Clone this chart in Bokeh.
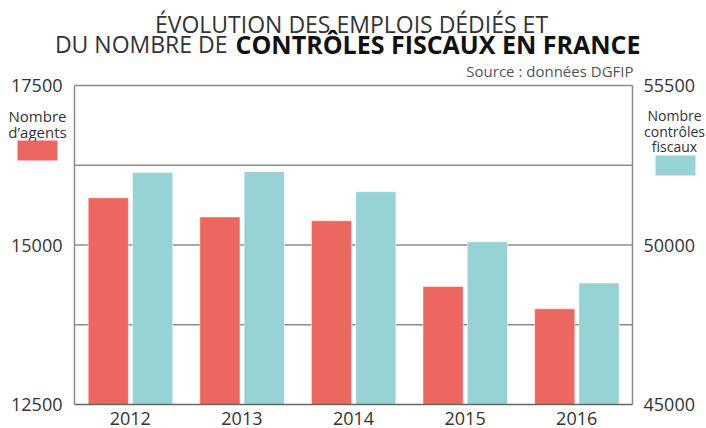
from bokeh.plotting import figure
from bokeh.models import Range1d, LinearAxis, FixedTicker, Label, BoxAnnotation, FactorRange, ColumnDataSource
from bokeh.transform import dodge
from bokeh.embed import file_html
from bokeh.resources import INLINE

years = ["2012", "2013", "2014", "2015", "2016"]
agents = [15740, 15440, 15380, 14350, 14000]
controles = [52270, 52300, 51670, 50100, 48810]
left_ticks = [12500, 15000, 17500]
right_ticks = [45000, 50000, 55000]
right_tick_labels = ["45000", "50000", "55500"]
grid_ticks = [13750, 15000, 16250, 17500]

RED = "#EC675F"
TEAL = "#97D3D4"
GRAY = "#8c8c8c"
TXT = "#333333"
FONT = "Open Sans"

W, H = 706, 428
# plot area in canvas pixels
PL, PR, PT, PB = 75, 633, 85, 404

def ext_range(lo, hi):
    per_px = (hi - lo) / (PB - PT)
    return Range1d(lo - (H - PB) * per_px, hi + PT * per_px)

n = len(years)
unit = (PR - PL) / n
pad = (W / unit - n) / 2

src = ColumnDataSource(data=dict(year=years, agents=agents, controles=controles))

p = figure(width=W, height=H,
           x_range=FactorRange(*years, range_padding=pad, range_padding_units="absolute"),
           y_range=ext_range(left_ticks[0], left_ticks[-1]),
           output_backend="svg", toolbar_location=None, min_border=0)
p.extra_y_ranges = {"ctrl": ext_range(right_ticks[0], right_ticks[-1])}
p.outline_line_color = None
p.grid.visible = False
p.background_fill_color = "white"

# grid lines and top border, limited to the plot area
p.segment(x0=[0] * len(grid_ticks), x1=[n] * len(grid_ticks), y0=grid_ticks, y1=grid_ticks,
          line_color=GRAY, line_width=1.5)

p.vbar(x=dodge("year", -0.197, range=p.x_range), top="agents", bottom=left_ticks[0], width=0.36,
       source=src, fill_color=RED, line_color="white", line_alpha=0.5, line_width=1)
p.vbar(x=dodge("year", 0.2, range=p.x_range), top="controles", bottom=right_ticks[0], width=0.36,
       source=src, fill_color=TEAL, line_color="white", line_alpha=0.5, line_width=1,
       y_range_name="ctrl")

def style_axis(ax, standoff):
    ax.major_tick_line_color = None
    ax.minor_tick_line_color = None
    ax.major_tick_out = 0
    ax.major_tick_in = 0
    ax.axis_line_color = GRAY
    ax.axis_line_width = 1.5
    ax.major_label_text_font = FONT
    ax.major_label_text_font_size = "18px"
    ax.major_label_text_color = TXT
    ax.major_label_standoff = standoff

yl = p.yaxis[0]
yl.ticker = FixedTicker(ticks=left_ticks)
yl.fixed_location = 0
yl.bounds = (left_ticks[0], left_ticks[-1])
style_axis(yl, 12)

yr = LinearAxis(y_range_name="ctrl", ticker=FixedTicker(ticks=right_ticks),
                major_label_overrides=dict(zip(right_ticks, right_tick_labels)))
yr.fixed_location = n
yr.bounds = (right_ticks[0], right_ticks[-1])
style_axis(yr, 11)
p.add_layout(yr, "right")

xa = p.xaxis[0]
xa.fixed_location = left_ticks[0]
xa.bounds = (0, n)
style_axis(xa, 7)
xa.axis_line_color = "#666666"

def lab(text, cx, cy, size, align="center", baseline="middle", style="normal", color=TXT):
    p.add_layout(Label(x=cx, y=H - cy, x_units="screen", y_units="screen", text=text,
                       text_font=FONT, text_font_size=size, text_align=align,
                       text_baseline=baseline, text_font_style=style, text_color=color))

lab("ÉVOLUTION DES EMPLOIS DÉDIÉS ET", 351, 23, "23px")
lab("DU NOMBRE DE ", 233, 43, "23px", align="right")
lab("CONTRÔLES FISCAUX EN FRANCE", 235, 43, "25px", align="left", style="bold", color="#111111")
lab("Source : données DGFIP", 633, 70, "15px", align="right", color="#555555")

lab("Nombre", 37, 115, "15px")
lab("d’agents", 37, 131, "15px")
lab("Nombre", 674, 115, "14px")
lab("contrôles", 674, 131, "14px")
lab("fiscaux", 674, 146, "14px")

def swatch(x0, x1, y0, y1, color):
    p.add_layout(BoxAnnotation(left=x0, right=x1, top=H - y0, bottom=H - y1,
                               left_units="screen", right_units="screen",
                               top_units="screen", bottom_units="screen",
                               fill_color=color, fill_alpha=1, line_color=None))

swatch(17, 57, 140, 160, RED)
swatch(655, 695, 155, 175, TEAL)

open("out.html", "w").write(file_html(p, INLINE))
